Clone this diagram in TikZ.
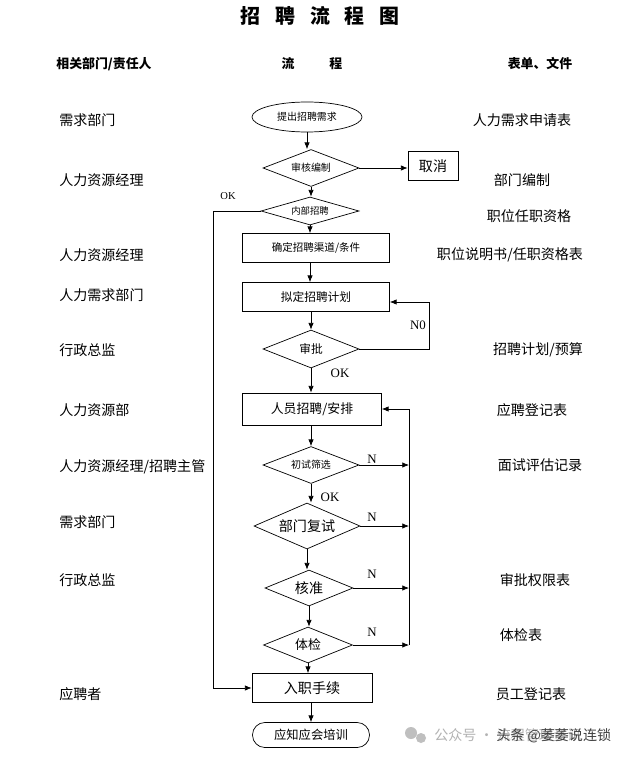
\documentclass[tikz,border=0pt]{standalone}
\usepackage{fontspec}
\setmainfont{Liberation Serif}
\newfontfamily\cjk{Noto Sans CJK SC}
\newcommand\fs[1]{\fontsize{#1}{#1}\selectfont}
\usetikzlibrary{shapes.geometric,arrows.meta,positioning}

\begin{document}
\begin{tikzpicture}[x=0.3mm,y=-0.3mm,line width=0.6pt,
  every node/.style={font=\cjk\fs{12}},
  arr/.style={-{Latex[length=2mm,width=1.6mm]}},
  dia/.style={draw,diamond,aspect=3,inner sep=0pt,minimum width=28.8mm,minimum height=11.1mm},
  box/.style={draw,rectangle,inner sep=0pt,minimum width=44.1mm,minimum height=8.7mm},
  who/.style={anchor=west},
  yn/.style={font=\rmfamily\fs{11}}]
\useasboundingbox[fill=white] (0,0) rectangle (640,757);
% titles
\node (T) at (320,16) [font=\cjk\bfseries\fs{17}] {招\hspace{0.75em}聘\hspace{0.75em}流\hspace{0.75em}程\hspace{0.75em}图};
\node (H1) at (104,64) [font=\cjk\bfseries\fs{11}] {相关部门/责任人};
\node (H2) at (312,64) [font=\cjk\bfseries\fs{11}] {流\hspace{2.7em}程};
\node (H3) at (540,64) [font=\cjk\bfseries\fs{11}] {表单、文件};
% left column
\node (L1) at (55,120) [who] {需求部门};
\node (L2) at (55,180) [who] {人力资源经理};
\node (L3) at (55,255) [who] {人力资源经理};
\node (L4) at (55,295) [who] {人力需求部门};
\node (L5) at (55,350) [who] {行政总监};
\node (L6) at (55,410) [who] {人力资源部};
\node (L7) at (55,467) [who] {人力资源经理/招聘主管};
\node (L8) at (55,522) [who] {需求部门};
\node (L9) at (55,580) [who] {行政总监};
\node (L10) at (55,694) [who] {应聘者};
% right column
\node (R1) at (522,120) {人力需求申请表};
\node (R2) at (522,180) {部门编制};
\node (R3) at (529,216) {职位任职资格};
\node (R4) at (510,255) {职位说明书/任职资格表};
\node (R5) at (538,350) {招聘计划/预算};
\node (R6) at (532,410) {应聘登记表};
\node (R7) at (540,465) {面试评估记录};
\node (R8) at (535,580) {审批权限表};
\node (R9) at (521,635) {体检表};
\node (R10) at (531,694) {员工登记表};
% flow
\node (start) at (307,117) [draw,ellipse,inner sep=0pt,minimum width=33mm,minimum height=9mm,font=\cjk\fs{8.5}] {提出招聘需求};
\node (chk) at (311,168) [dia,font=\cjk\fs{8.5}] {审核编制};
\node (cancel) at (433,166) [draw,inner sep=0pt,minimum width=15mm,minimum height=8.7mm] {取消};
\node (inner) at (310,211) [dia,minimum width=29.4mm,minimum height=8.4mm,font=\cjk\fs{8}] {内部招聘};
\node (chan) at (316,248) [box,font=\cjk\fs{9}] {确定招聘渠道/条件};
\node (plan) at (316,297) [box,font=\cjk\fs{10}] {拟定招聘计划};
\node (appr) at (311,349) [dia,minimum height=11.4mm,font=\cjk\fs{10}] {审批};
\node (hire) at (312,409) [box,minimum width=41.7mm,minimum height=9.6mm,font=\cjk\fs{11}] {人员招聘/安排};
\node (first) at (311,465) [dia,font=\cjk\fs{8.5}] {初试筛选};
\node (dept) at (307,526) [dia,minimum width=31.8mm,minimum height=13.8mm] {部门复试};
\node (ok) at (309,588) [dia,minimum width=26.4mm,minimum height=10.8mm] {核准};
\node (med) at (308,645) [dia,minimum width=26.7mm,minimum height=10.8mm,font=\cjk\fs{11}] {体检};
\node (join) at (312,688) [box,minimum width=36mm] {入职手续};
\node (train) at (311,735) [draw,rounded corners=3.7mm,inner sep=0pt,minimum width=35.1mm,minimum height=7.5mm,font=\cjk\fs{10.5}] {应知应会培训};
\coordinate (NL) at (429,0);
\coordinate (NR) at (409,0);
\coordinate (OL) at (213,0);
% arrows down
\draw[arr] (start.south) -- (start.south |- chk.north);
\draw[arr] (chk.south) -- (chk.south |- inner.north);
\draw[arr] (inner.south) -- (inner.south |- chan.north);
\draw[arr] (chan.south -| inner.south) -- (inner.south |- plan.north);
\draw[arr] (plan.south -| appr.south) -- (appr.north);
\draw[arr] (appr.south) -- (appr.south |- hire.north);
\draw[arr] (hire.south -| first.south) -- (first.north);
\draw[arr] (first.south) -- (first.south |- dept.north);
\draw[arr] (dept.south) -- (dept.south |- ok.north);
\draw[arr] (ok.south) -- (ok.south |- med.north);
\draw[arr] (med.south) -- (med.south |- join.north);
\draw[arr] (join.south -| train.north) -- (train.north);
% side lines
\draw[arr] (chk.east) -- (chk.east -| cancel.west);
\draw[arr] (inner.west) -- (inner.west -| OL) |- (join.west);
\node (okA) at (228,196) [yn,font=\rmfamily\fs{9}] {OK};
\draw[arr] (appr.east) -- (appr.east -| NL) |- ([yshift=-1.5mm]plan.east);
\node (no) at (418,325) [yn] {N0};
\node (okB) at (340,373) [yn] {OK};
\draw[arr] (NR |- med.east) -- (NR |- hire.east) -- (hire.east);
\foreach \d/\y in {first/459,dept/517,ok/574,med/632}{
  \draw[arr] (\d.east) -- (\d.east -| NR);
  \node at (372,\y) [yn] {N};
}
\node (okC) at (330,497) [yn] {OK};
% watermark
\fill[black!25] (411,733) circle (6) (421,738) circle (5);
\node (wm1) at (430,735) [anchor=west,text=black!30] {公众号 · 流程管理资讯};
\node (wm2) at (492,736) [anchor=west,text=black!75] {头条 @萎萎说连锁};
\end{tikzpicture}
\end{document}
